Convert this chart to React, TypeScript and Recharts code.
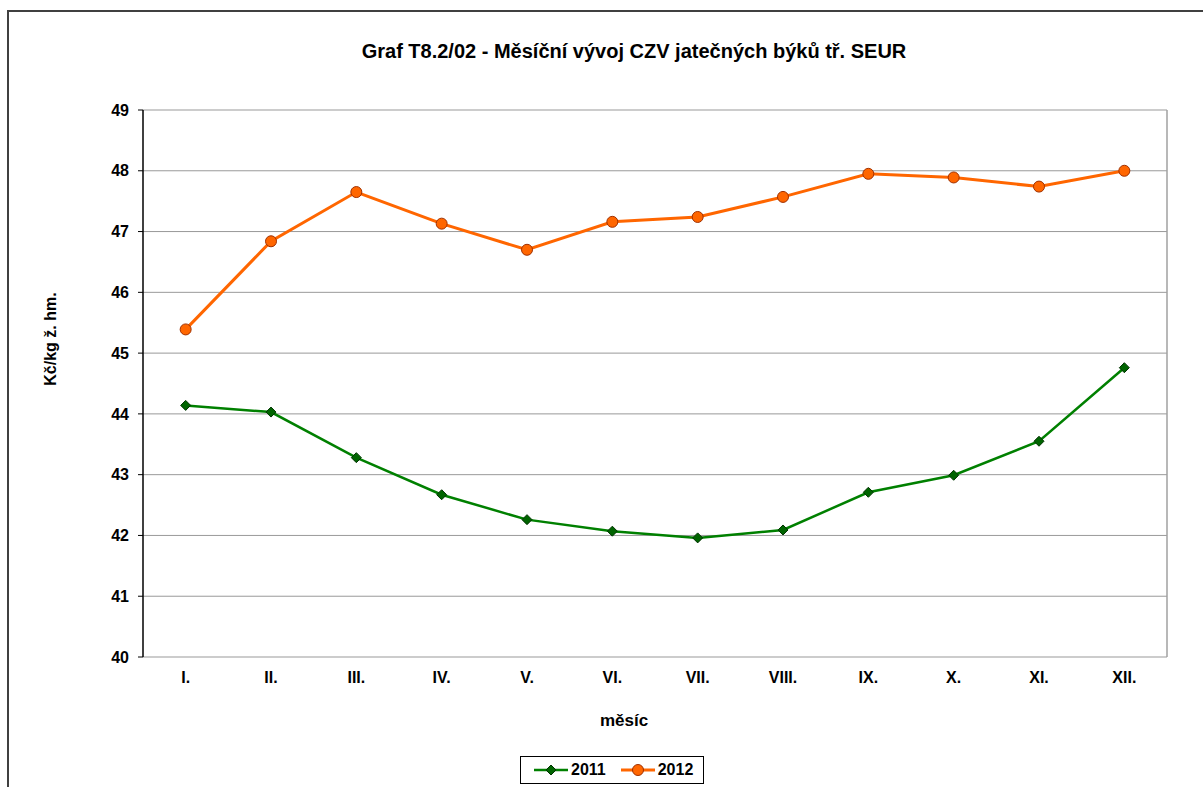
import React from 'react';
import { LineChart, Line, XAxis, YAxis, CartesianGrid, ReferenceLine } from 'recharts';

const months = ['I.', 'II.', 'III.', 'IV.', 'V.', 'VI.', 'VII.', 'VIII.', 'IX.', 'X.', 'XI.', 'XII.'];
const series2011 = [44.14, 44.03, 43.28, 42.67, 42.26, 42.07, 41.96, 42.09, 42.71, 42.99, 43.55, 44.76];
const series2012 = [45.39, 46.84, 47.65, 47.13, 46.7, 47.16, 47.24, 47.57, 47.95, 47.89, 47.74, 48.0];
const yTicks = [40, 41, 42, 43, 44, 45, 46, 47, 48, 49];
const seriesNames = ['2011', '2012'];
const title = 'Graf T8.2/02 - Měsíční vývoj CZV jatečných býků tř. SEUR';
const yTitle = 'Kč/kg ž. hm.';
const xTitle = 'měsíc';

const data = months.map((m, i) => ({ pos: i + 1, month: m, y2011: series2011[i], y2012: series2012[i] }));
const catTicks = months.map((_, i) => i + 1);
const edgeTicks = [0, ...months.map((_, i) => i + 1)].map((v) => v + 0.5);

const FONT = 'Arial, "Liberation Sans", sans-serif';
const ORANGE = '#FF6600';
const GREEN = '#008000';

const Diamond = (props: any) => {
  const { cx, cy } = props;
  if (cx == null || cy == null) return null;
  const r = 5;
  return (
    <path
      d={`M${cx},${cy - r}L${cx + r},${cy}L${cx},${cy + r}L${cx - r},${cy}Z`}
      fill="#006400"
      stroke="#003300"
      strokeWidth={1}
    />
  );
};

const Circle = (props: any) => {
  const { cx, cy } = props;
  if (cx == null || cy == null) return null;
  return <circle cx={cx} cy={cy} r={5.5} fill={ORANGE} stroke="#A03000" strokeWidth={1} />;
};

export default function App() {
  return (
    <div
      style={{
        position: 'absolute',
        left: 0,
        top: 0,
        width: 1203,
        height: 787,
        overflow: 'hidden',
        background: '#fff',
        fontFamily: FONT,
      }}
    >
      <div
        style={{
          position: 'absolute',
          left: 7,
          top: 10,
          width: 1400,
          height: 1000,
          borderLeft: '2px solid #404040',
          borderTop: '2px solid #404040',
        }}
      />
      <div
        style={{
          position: 'absolute',
          left: 234,
          width: 800,
          top: 39,
          lineHeight: '24px',
          textAlign: 'center',
          fontWeight: 'bold',
          fontSize: 20,
          color: '#000',
        }}
      >
        {title}
      </div>
      <div
        style={{
          position: 'absolute',
          left: 51 - 100,
          top: 339 - 10,
          width: 200,
          height: 20,
          lineHeight: '20px',
          textAlign: 'center',
          fontWeight: 'bold',
          fontSize: 16,
          transform: 'rotate(-90deg)',
          color: '#000',
        }}
      >
        {yTitle}
      </div>
      <div
        style={{
          position: 'absolute',
          left: 624 - 100,
          top: 711,
          width: 200,
          lineHeight: '20px',
          textAlign: 'center',
          fontWeight: 'bold',
          fontSize: 17,
          color: '#000',
        }}
      >
        {xTitle}
      </div>
      <div style={{ position: 'absolute', left: 0, top: 0 }}>
        <LineChart
          width={1203}
          height={787}
          data={data}
          margin={{ top: 110, right: 36, bottom: 100, left: 63 }}
        >
          <CartesianGrid horizontal vertical={false} stroke="#999999" strokeWidth={1} />
          <XAxis
            xAxisId="edge"
            type="number"
            dataKey="pos"
            domain={[0.5, 12.5]}
            ticks={edgeTicks}
            tick={false}
            tickSize={5}
            tickLine={{ stroke: '#000' }}
            axisLine={{ stroke: '#000', strokeWidth: 1.5 }}
            height={0}
            allowDataOverflow
          />
          <XAxis
            xAxisId="cat"
            type="number"
            dataKey="pos"
            domain={[0.5, 12.5]}
            ticks={catTicks}
            tickFormatter={(v: number) => months[v - 1]}
            tick={{ fill: '#000', fontSize: 16, fontWeight: 'bold', fontFamily: FONT }}
            tickLine={false}
            tickSize={0}
            tickMargin={15}
            axisLine={false}
            height={30}
            interval={0}
            allowDataOverflow
          />
          <YAxis
            type="number"
            domain={[40, 49]}
            ticks={yTicks}
            interval={0}
            width={80}
            tickSize={5}
            tickMargin={9}
            tickLine={{ stroke: '#000' }}
            axisLine={{ stroke: '#000', strokeWidth: 1.5 }}
            tick={{ fill: '#000', fontSize: 16, fontWeight: 'bold', fontFamily: FONT }}
            allowDataOverflow
          />
          <ReferenceLine xAxisId="cat" x={12.5} stroke="#A0A0A0" strokeWidth={1.5} />
          <Line
            xAxisId="cat"
            type="linear"
            dataKey="y2011"
            name={seriesNames[0]}
            stroke={GREEN}
            strokeWidth={2.5}
            dot={<Diamond />}
            isAnimationActive={false}
          />
          <Line
            xAxisId="cat"
            type="linear"
            dataKey="y2012"
            name={seriesNames[1]}
            stroke={ORANGE}
            strokeWidth={3}
            dot={<Circle />}
            isAnimationActive={false}
          />
        </LineChart>
      </div>
      <div
        style={{
          position: 'absolute',
          left: 520,
          top: 756,
          width: 182,
          height: 26,
          border: '1px solid #000',
          display: 'flex',
          alignItems: 'center',
          fontWeight: 'bold',
          fontSize: 16,
          color: '#000',
        }}
      >
        <svg width={34} height={14} style={{ marginLeft: 13 }}>
          <line x1={0} y1={7} x2={34} y2={7} stroke={GREEN} strokeWidth={2.5} />
          <path d="M17,2L22,7L17,12L12,7Z" fill="#006400" stroke="#003300" strokeWidth={1} />
        </svg>
        <span style={{ marginLeft: 3 }}>{seriesNames[0]}</span>
        <svg width={34} height={14} style={{ marginLeft: 15 }}>
          <line x1={0} y1={7} x2={34} y2={7} stroke={ORANGE} strokeWidth={3} />
          <circle cx={17} cy={7} r={5.5} fill={ORANGE} stroke="#A03000" strokeWidth={1} />
        </svg>
        <span style={{ marginLeft: 3 }}>{seriesNames[1]}</span>
      </div>
    </div>
  );
}
